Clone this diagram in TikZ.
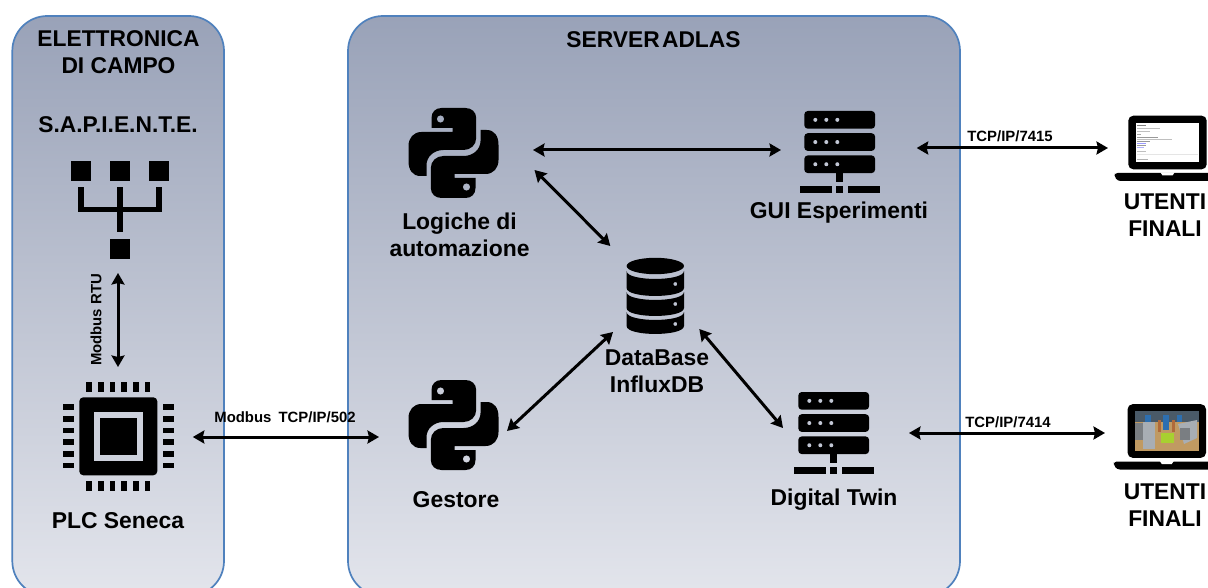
\documentclass[tikz,border=0pt]{standalone}
\usepackage{fontspec}
\setmainfont{Liberation Sans}
\usetikzlibrary{arrows.meta}
\definecolor{gradtop}{HTML}{99A2B8}
\definecolor{gradbot}{HTML}{E3E5EC}
\definecolor{panelline}{HTML}{4F81BD}
\definecolor{scFloor}{HTML}{C09A62}
\definecolor{scSky}{HTML}{4A5A68}
\definecolor{scDark}{HTML}{7A7E82}
\definecolor{scGrey}{HTML}{A8AEB4}
\definecolor{scBlue}{HTML}{2D6FB0}
\definecolor{scRust}{HTML}{B06A3A}
\definecolor{scGreen}{HTML}{A8D030}
\tikzset{
  panelbox/.style={top color=gradtop,bottom color=gradbot,draw=panelline,line width=1.7pt,rounded corners=35pt},
  biglabel/.style={font=\fontsize{22.8}{27}\bfseries\selectfont,align=center,inner sep=0pt,text=black},
  midlabel/.style={font=\fontsize{22.9}{27}\bfseries\selectfont,align=center,inner sep=0pt,text=black},
  smalllabel/.style={font=\fontsize{14.9}{16}\bfseries\selectfont,inner sep=0pt,text=black},
  iconbox/.style={inner sep=0pt,minimum size=1pt},
  link/.style={line width=3pt,black,{Stealth[length=11.5pt,width=13pt,inset=1.5pt]}-{Stealth[length=11.5pt,width=13pt,inset=1.5pt]}},
  pythonlogo/.pic={
    \fill[black,even odd rule]
      (-12,-45) -- (12,-45) .. controls (18,-45) and (22.7,-41) .. (22.7,-35) -- (22.7,-15)
      .. controls (22.7,-8) and (17,-3) .. (10,-3) -- (-10,-3)
      .. controls (-20,-3) and (-27,4) .. (-27,12) -- (-27,23) -- (-33,23)
      .. controls (-41,23) and (-45,17) .. (-45,8) -- (-45,-7)
      .. controls (-45,-15) and (-40,-21) .. (-32,-21) -- (-1,-21) -- (-1,-25) -- (-22,-25) -- (-22,-35)
      .. controls (-22,-41) and (-18,-45) .. (-12,-45) -- cycle
      (-13,-34) circle[radius=3.7];
    \fill[black,even odd rule]
      (12,45) -- (-12,45) .. controls (-18,45) and (-22.7,41) .. (-22.7,35) -- (-22.7,15)
      .. controls (-22.7,8) and (-17,3) .. (-10,3) -- (10,3)
      .. controls (20,3) and (27,-4) .. (27,-12) -- (27,-23) -- (33,-23)
      .. controls (41,-23) and (45,-17) .. (45,-8) -- (45,7)
      .. controls (45,15) and (40,21) .. (32,21) -- (1,21) -- (1,25) -- (22,25) -- (22,35)
      .. controls (22,41) and (18,45) .. (12,45) -- cycle
      (13,34) circle[radius=3.7];
  },
  serverlogo/.pic={
    \foreach \t in {-41,-18.8,3.4}{
      \fill[black,rounded corners=3.5pt] (-35.4,\t) rectangle (35.4,\t+17.7);
      \foreach \d in {-24.4,-13.4,-2.4}{
        \fill[gradtop!45!gradbot] (\d,\t+8.85) circle[radius=2];
      }
    }
    \fill[black] (-3.3,21) rectangle (3.3,29.7);
    \fill[black] (-40,34.3) rectangle (-8,41);
    \fill[black] (-3.3,34.3) rectangle (3.3,41);
    \fill[black] (8,34.3) rectangle (40,41);
  },
  dblogo/.pic={
    \fill[black] (0,-30) ellipse[x radius=28.7,y radius=8.2];
    \fill[black,even odd rule]
      (-28.7,-25) .. controls (-28.7,-14.4) and (28.7,-14.4) .. (28.7,-25) -- (28.7,-8)
      .. controls (28.7,2.6) and (-28.7,2.6) .. (-28.7,-8) -- cycle
      (20,-12) circle[radius=2];
    \fill[black,even odd rule]
      (-28.7,-4) .. controls (-28.7,6.6) and (28.7,6.6) .. (28.7,-4) -- (28.7,12)
      .. controls (28.7,22.6) and (-28.7,22.6) .. (-28.7,12) -- cycle
      (20,8) circle[radius=2];
    \fill[black,even odd rule]
      (-28.7,16) .. controls (-28.7,26.6) and (28.7,26.6) .. (28.7,16) -- (28.7,30)
      .. controls (28.7,40.6) and (-28.7,40.6) .. (-28.7,30) -- cycle
      (20,28) circle[radius=2];
  },
  chiplogo/.pic={
    \fill[black,rounded corners=4pt] (-39,-39) rectangle (39,39);
    \fill[gradtop!30!gradbot] (-24.7,-24.7) rectangle (24.7,24.7);
    \fill[black] (-18.7,-18.7) rectangle (18.7,18.7);
    \foreach \p in {-29.2,-17.5,-5.8,5.8,17.5,29.2}{
      \fill[black] (\p-2.9,-54) rectangle (\p+2.9,-44.3);
      \fill[black] (\p-2.9,45) rectangle (\p+2.9,55);
      \fill[black] (-55,\p-2.9) rectangle (-44.5,\p+2.9);
      \fill[black] (44.7,\p-2.9) rectangle (55.4,\p+2.9);
    }
  },
  laptoplogo/.pic={
    \fill[black,rounded corners=5pt] (-39.2,-26.8) rectangle (39.2,26.8);
    \fill[black,rounded corners=3pt] (-53,30.5) -- (-53,34) -- (-50,38.5) -- (53,38.5) -- (53,30.5) -- cycle;
    \fill[white] (-7,30) -- (7,30) -- (5,33) -- (-5,33) -- cycle;
  }
}
\begin{document}
\begin{tikzpicture}[x=1pt,y=-1pt]
\useasboundingbox (0,0) rectangle (1208,588);
\clip (0,0) rectangle (1208,588);
% panels
\path[panelbox] (12.3,16) rectangle (224,596);
\path[panelbox] (348,16) rectangle (960,596);
% titles
\node[biglabel] (titleA) at (118.5,52.5) {ELETTRONICA\\DI CAMPO};
\node[biglabel] (titleB) at (118,125) {S.A.P.I.E.N.T.E.};
\node[biglabel] (titleC) at (653.5,40) {SERVER\hspace{-4pt} ADLAS};
% S.A.P.I.E.N.T.E. tree icon
\fill (71,160.7) rectangle (91,180.7);
\fill (110,160.7) rectangle (130,180.7);
\fill (148.7,160.7) rectangle (169,180.7);
\fill (78,186.7) rectangle (84,212);
\fill (156,186.7) rectangle (161.7,212);
\fill (117.3,186.7) rectangle (122.7,232.3);
\fill (78,206.7) rectangle (161.7,212);
\fill (110,238.7) rectangle (130,258.7);
\node[iconbox] (sapiente) at (120,209.7) {};
% PLC
\pic at (118.3,436.3) {chiplogo};
\node[iconbox] (plc) at (118.3,436.3) {};
\node[midlabel] (plclabel) at (118,521) {PLC Seneca};
% Python
\pic at (453.5,153) {pythonlogo};
\node[iconbox] (logic) at (453.5,153) {};
\node[midlabel] (logiclabel) at (459.5,234.5) {Logiche di\\automazione};
\pic at (453.5,425) {pythonlogo};
\node[iconbox] (gestore) at (453.5,425) {};
\node[midlabel] (gestorelabel) at (456,500) {Gestore};
% DB
\pic at (655.3,296) {dblogo};
\node[iconbox] (db) at (655.3,296) {};
\node[midlabel] (dblabel) at (657,371.5) {DataBase\\InfluxDB};
% servers
\pic at (839.7,152) {serverlogo};
\node[iconbox] (gui) at (839.7,152) {};
\node[midlabel] (guilabel) at (839,213) {GUI Esperimenti};
\pic at (833.7,433) {serverlogo};
\node[iconbox] (twin) at (833.7,433) {};
\node[midlabel] (twinlabel) at (834,500) {Digital Twin};
% laptops
\pic at (1167.5,142.5) {laptoplogo};
\node[iconbox] (userA) at (1167.5,142.5) {};
\fill[white] (1135.7,122.7) rectangle (1199.3,162.3);
\foreach \yy/\xe/\cc in {125/1146/black!50,128/1160/black!25,131/1150/black!25,134/1141/black!35,137/1158/black!40,139/1172/black!25,141/1150/black!40,143/1146/blue!40,145/1146/black!40,147/1144/blue!30,151/1146/black!25,154/1198/black!10,159/1148/black!30}{
  \fill[\cc] (1137,\yy) rectangle (\xe,\yy+1);
}
\node[biglabel] (userAlabel) at (1165,215.5) {UTENTI\\FINALI};
\pic at (1166.8,431) {laptoplogo};
\node[iconbox] (userB) at (1166.8,431) {};
\fill[scFloor] (1134.7,411) rectangle (1199,450.7);
\fill[scSky] (1134.7,411) rectangle (1199,422);
\fill[scDark] (1134.7,423) rectangle (1143,440);
\fill[scGrey] (1143,422) rectangle (1155,449);
\fill[scGrey] (1178,424) -- (1197,420) -- (1197,438) -- (1184,444) -- cycle;
\fill[scDark] (1180,428) rectangle (1190,440);
\fill[scBlue] (1163,415) rectangle (1169,430);
\fill[scBlue] (1145,415) rectangle (1151,422);
\fill[scBlue] (1177,415) rectangle (1182,422);
\fill[scRust] (1158,420) rectangle (1161,432);
\fill[scRust] (1172,420) rectangle (1175,432);
\fill[scGreen] (1161,432.5) rectangle (1174,443);
\node[biglabel] (userBlabel) at (1165,505.5) {UTENTI\\FINALI};
% connectors
\draw[link] ([shift={(-2,63.3)}]sapiente.center) -- ([shift={(-2,157.3)}]sapiente.center);
\draw[link] ([shift={(74.5,0.7)}]plc.center) -- ([shift={(-74.5,12)}]gestore.center);
\draw[link] ([shift={(79.5,-3)}]logic.center) -- ([shift={(-58.7,-2)}]gui.center);
\draw[link] ([shift={(81,17)}]logic.center) -- ([shift={(-45,-50)}]db.center);
\draw[link] ([shift={(53.5,6)}]gestore.center) -- ([shift={(-42.3,36)}]db.center);
\draw[link] ([shift={(44,33)}]db.center) -- ([shift={(-50.7,-5)}]twin.center);
\draw[link] ([shift={(77,-4)}]gui.center) -- ([shift={(-59.5,5.5)}]userA.center);
\draw[link] ([shift={(75.3,0)}]twin.center) -- ([shift={(-61.8,2)}]userB.center);
% link labels
\node[smalllabel,rotate=90] (rtu) at (96,320) {Modbus RTU};
\node[smalllabel] (lblplc) at (285,417) {Modbus\hspace{3pt} TCP/IP/502};
\node[smalllabel] (lblA) at (1010,136) {TCP/IP/7415};
\node[smalllabel] (lblB) at (1008,422) {TCP/IP/7414};
\end{tikzpicture}
\end{document}
